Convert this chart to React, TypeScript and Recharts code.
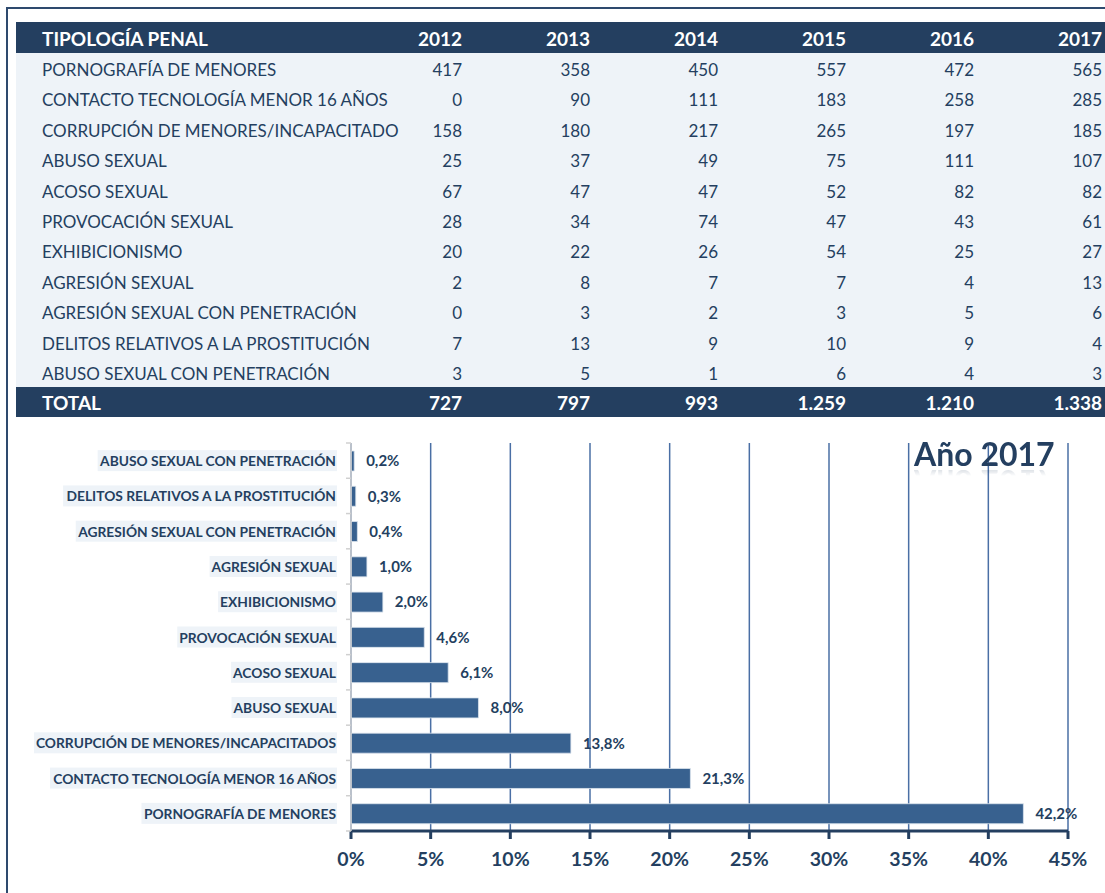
import React from "react";
import {
  BarChart,
  Bar,
  XAxis,
  YAxis,
  CartesianGrid,
  LabelList,
} from "recharts";

const years = ["2012", "2013", "2014", "2015", "2016", "2017"];

const tableRows = [
  "PORNOGRAFÍA DE MENORES",
  "CONTACTO TECNOLOGÍA MENOR 16 AÑOS",
  "CORRUPCIÓN DE MENORES/INCAPACITADO",
  "ABUSO SEXUAL",
  "ACOSO SEXUAL",
  "PROVOCACIÓN SEXUAL",
  "EXHIBICIONISMO",
  "AGRESIÓN SEXUAL",
  "AGRESIÓN SEXUAL CON PENETRACIÓN",
  "DELITOS RELATIVOS A LA PROSTITUCIÓN",
  "ABUSO SEXUAL CON PENETRACIÓN",
];

const tableValues = [
  [417, 358, 450, 557, 472, 565],
  [0, 90, 111, 183, 258, 285],
  [158, 180, 217, 265, 197, 185],
  [25, 37, 49, 75, 111, 107],
  [67, 47, 47, 52, 82, 82],
  [28, 34, 74, 47, 43, 61],
  [20, 22, 26, 54, 25, 27],
  [2, 8, 7, 7, 4, 13],
  [0, 3, 2, 3, 5, 6],
  [7, 13, 9, 10, 9, 4],
  [3, 5, 1, 6, 4, 3],
];

const totals = ["727", "797", "993", "1.259", "1.210", "1.338"];

// chart, top to bottom
const chartCategories = [
  "ABUSO SEXUAL CON PENETRACIÓN",
  "DELITOS RELATIVOS A LA PROSTITUCIÓN",
  "AGRESIÓN SEXUAL CON PENETRACIÓN",
  "AGRESIÓN SEXUAL",
  "EXHIBICIONISMO",
  "PROVOCACIÓN SEXUAL",
  "ACOSO SEXUAL",
  "ABUSO SEXUAL",
  "CORRUPCIÓN DE MENORES/INCAPACITADOS",
  "CONTACTO TECNOLOGÍA MENOR 16 AÑOS",
  "PORNOGRAFÍA DE MENORES",
];
const chartPercents = [0.2, 0.3, 0.4, 1.0, 2.0, 4.6, 6.1, 8.0, 13.8, 21.3, 42.2];
const xTicks = [0, 5, 10, 15, 20, 25, 30, 35, 40, 45];

const chartData = chartCategories.map((name, i) => ({ name, pct: chartPercents[i] }));

const FONT = "Lato, 'Open Sans', sans-serif";
const NAVY = "#243F60";
const PALE = "#EEF3F8";

const CHART_H = 463;
const MARGIN = { top: 13, right: 37, bottom: 32, left: 0 };
const X_AXIS_H = 30;
const band = (CHART_H - MARGIN.top - MARGIN.bottom - X_AXIS_H) / chartCategories.length;

let ctx: CanvasRenderingContext2D | null = null;
function textWidth(s: string, font: string) {
  if (!ctx) ctx = document.createElement("canvas").getContext("2d");
  if (!ctx) return s.length * 7;
  ctx.font = font;
  return ctx.measureText(s).width;
}

function CategoryTick(props: any) {
  const { x, y, payload, index } = props;
  const w = textWidth(payload.value, `bold 13.8px ${FONT}`);
  return (
    <g>
      <rect x={x - w - 2} y={y - 10.5} width={w + 3} height={21} fill={PALE} />
      <text
        x={x}
        y={y}
        textAnchor="end"
        dominantBaseline="central"
        fontFamily={FONT}
        fontWeight="bold"
        fontSize={13.8}
        fill={NAVY}
      >
        {payload.value}
      </text>
      <line x1={x + 10} x2={x + 15} y1={y + band / 2} y2={y + band / 2} stroke="#D0D0D0" strokeWidth={1.5} />
      {index === 0 && (
        <line x1={x + 10} x2={x + 15} y1={y - band / 2} y2={y - band / 2} stroke="#D0D0D0" strokeWidth={1.5} />
      )}
    </g>
  );
}

const cell: React.CSSProperties = {
  position: "absolute",
  width: 128,
  textAlign: "right",
};
const colLeft = (j: number) => 318 + j * 128;

function DataTable() {
  const rowH = 30.4;
  const bold: React.CSSProperties = { position: "relative", background: NAVY, color: "#fff", fontWeight: "bold", fontSize: 19 };
  return (
    <div style={{ position: "absolute", left: 16, top: 22, width: 1100, fontFamily: FONT, fontSize: 17, color: NAVY }}>
      <div style={{ ...bold, height: 31, lineHeight: "33px" }}>
        <span style={{ position: "absolute", left: 26 }}>TIPOLOGÍA PENAL</span>
        {years.map((yr, j) => (
          <span key={yr} style={{ ...cell, left: colLeft(j) }}>{yr}</span>
        ))}
      </div>
      {tableRows.map((label, i) => (
        <div key={label} style={{ position: "relative", height: rowH, background: PALE, lineHeight: rowH + 4 + "px" }}>
          <span style={{ position: "absolute", left: 26 }}>{label}</span>
          {tableValues[i].map((v, j) => (
            <span key={j} style={{ ...cell, left: colLeft(j) }}>{v}</span>
          ))}
        </div>
      ))}
      <div style={{ ...bold, height: 30, lineHeight: "32px" }}>
        <span style={{ position: "absolute", left: 26 }}>TOTAL</span>
        {totals.map((t, j) => (
          <span key={j} style={{ ...cell, left: colLeft(j) }}>{t}</span>
        ))}
      </div>
    </div>
  );
}

export default function App() {
  return (
    <div style={{ position: "fixed", left: 0, top: 0, width: 1105, height: 893, overflow: "hidden", background: "#fff" }}>
      <div style={{ position: "absolute", left: 6, top: 7, width: 2, height: 900, background: "#2E4A6E" }} />
      <div style={{ position: "absolute", left: 6, top: 7, width: 1100, height: 2, background: "#2E4A6E" }} />
      <DataTable />
      <div style={{ position: "absolute", left: 0, top: 430 }}>
        <BarChart width={1105} height={CHART_H} data={chartData} layout="vertical" margin={MARGIN} barSize={20}>
          <CartesianGrid horizontal={false} stroke="#4A6FA5" strokeWidth={1.5} />
          <XAxis
            type="number"
            domain={[0, 45]}
            ticks={xTicks}
            interval={0}
            height={X_AXIS_H}
            tickFormatter={(v: number) => `${v}%`}
            axisLine={{ stroke: NAVY, strokeWidth: 3 }}
            tickLine={{ stroke: NAVY, strokeWidth: 3 }}
            tickSize={8}
            tickMargin={13}
            tick={{ fill: NAVY, fontFamily: FONT, fontWeight: "bold", fontSize: 19.5 }}
          />
          <YAxis
            type="category"
            dataKey="name"
            width={351}
            axisLine={{ stroke: "#D0D0D0", strokeWidth: 1.5 }}
            tickLine={false}
            tickSize={0}
            tickMargin={15}
            interval={0}
            tick={<CategoryTick />}
          />
          <Bar dataKey="pct" fill="#38618F" stroke="#DCE4EE" strokeWidth={0.8} isAnimationActive={false}>
            <LabelList
              dataKey="pct"
              position="right"
              offset={12}
              formatter={(v: any) => `${Number(v).toFixed(1).replace(".", ",")}%`}
              style={{ fill: NAVY, fontFamily: FONT, fontWeight: "bold", fontSize: 15 }}
            />
          </Bar>
        </BarChart>
      </div>
      <div
        style={{
          position: "absolute",
          left: 914,
          top: 434,
          fontFamily: FONT,
          fontWeight: "bold",
          fontSize: 32,
          color: NAVY,
          lineHeight: "40px",
          WebkitBoxReflect: "below -12px linear-gradient(transparent 65%, rgba(255,255,255,0.35))",
        } as React.CSSProperties}
      >
        Año 2017
      </div>
    </div>
  );
}
